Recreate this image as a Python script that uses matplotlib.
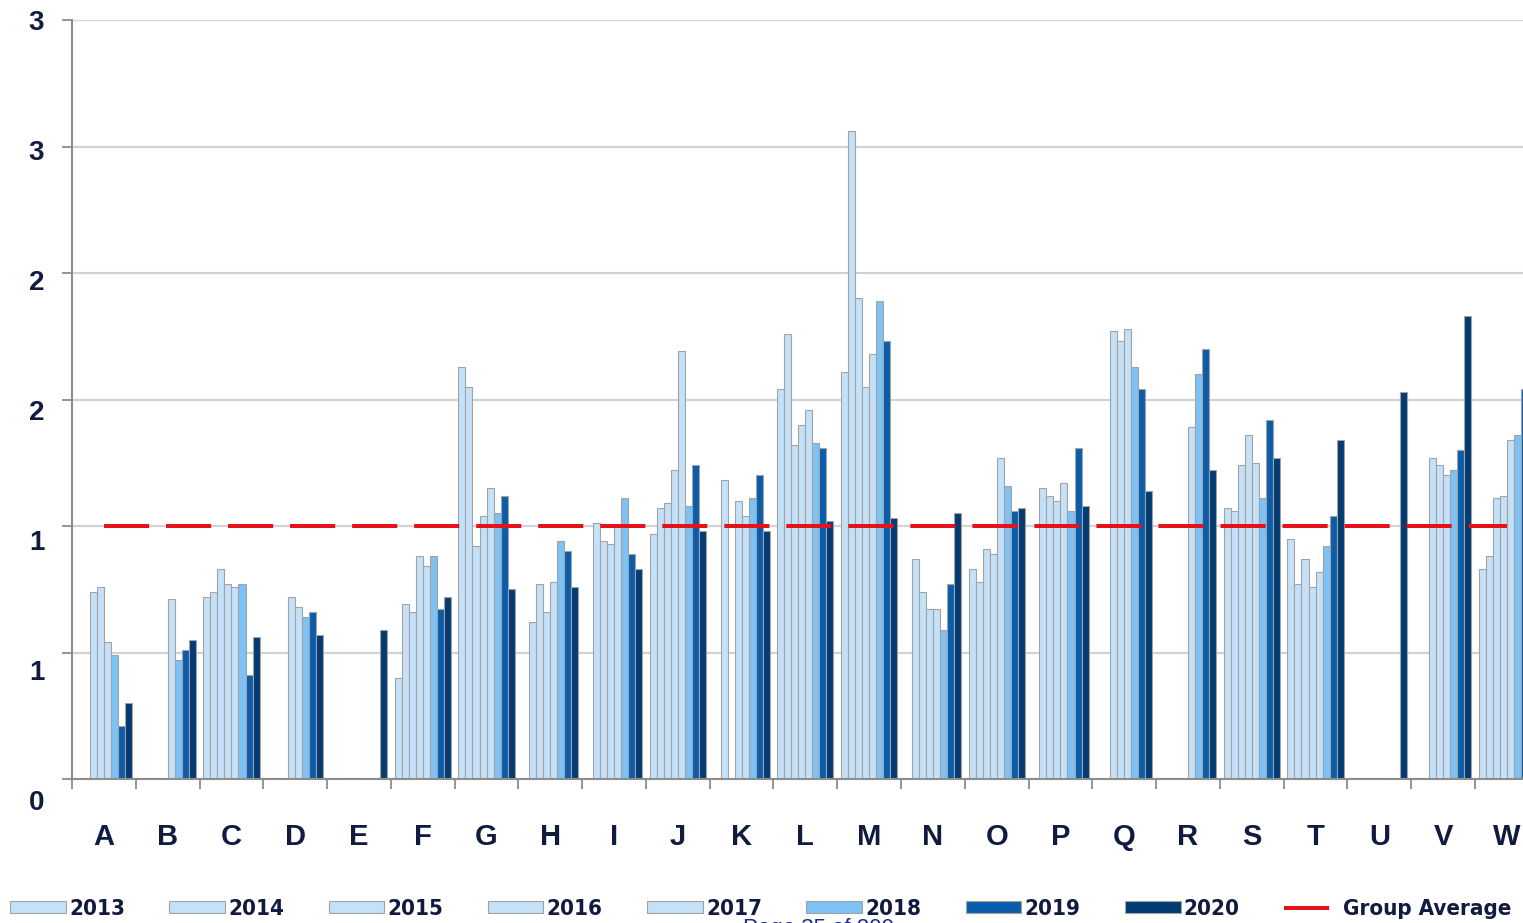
import numpy as np
import matplotlib
matplotlib.use("Agg")
import matplotlib.pyplot as plt
from matplotlib import font_manager

nan = np.nan

CATEGORIES = list("ABCDEFGHIJKLMNOPQRSTUVW")
YEARS = ["2013", "2014", "2015", "2016", "2017", "2018", "2019", "2020"]

# ratio per category and year (blank = no figure for that year)
V2013 = [nan, nan, 0.72, nan, nan, 0.40, 1.63, nan, nan, 0.97, nan, 1.54,
         1.61, nan, 0.83, nan, nan, nan, 1.07, 0.95, nan, nan, 0.83]
V2014 = [nan, nan, 0.74, nan, nan, 0.69, 1.55, 0.62, 1.01, 1.07, 1.18, 1.76,
         2.56, 0.87, 0.78, 1.15, nan, nan, 1.06, 0.77, nan, nan, 0.88]
V2015 = [0.74, nan, 0.83, nan, nan, 0.66, 0.92, 0.77, 0.94, 1.09, nan, 1.32,
         1.90, 0.74, 0.91, 1.12, 1.77, nan, 1.24, 0.87, nan, 1.27, 1.11]
V2016 = [0.76, nan, 0.77, 0.72, nan, 0.88, 1.04, 0.66, 0.93, 1.22, 1.10, 1.40,
         1.55, 0.67, 0.89, 1.10, 1.73, nan, 1.36, 0.76, nan, 1.24, 1.12]
V2017 = [0.54, 0.71, 0.76, 0.68, nan, 0.84, 1.15, 0.78, 1.00, 1.69, 1.04, 1.46,
         1.68, 0.67, 1.27, 1.17, 1.78, 1.39, 1.25, 0.82, nan, 1.20, 1.34]
V2018 = [0.49, 0.47, 0.77, 0.64, nan, 0.88, 1.05, 0.94, 1.11, 1.08, 1.11, 1.33,
         1.89, 0.59, 1.16, 1.06, 1.63, 1.60, 1.11, 0.92, nan, 1.22, 1.36]
V2019 = [0.21, 0.51, 0.41, 0.66, nan, 0.67, 1.12, 0.90, 0.89, 1.24, 1.20, 1.31,
         1.73, 0.77, 1.06, 1.31, 1.54, 1.70, 1.42, 1.04, nan, 1.30, 1.54]
V2020 = [0.30, 0.55, 0.56, 0.57, 0.59, 0.72, 0.75, 0.76, 0.83, 0.98, 0.98, 1.02,
         1.03, 1.05, 1.07, 1.08, 1.14, 1.22, 1.27, 1.34, 1.53, 1.83, nan]
GROUP_AVG = [1.0, 1.0, 1.0, 1.0, 1.0, 1.0, 1.0, 1.0, 1.0, 1.0, 1.0, 1.0,
             1.0, 1.0, 1.0, 1.0, 1.0, 1.0, 1.0, 1.0, 1.0, 1.0, 1.0]

Y_TICKS = [0, 0.5, 1, 1.5, 2, 2.5, 3]
Y_TICK_LABELS = ["0", "1", "1", "2", "2", "3", "3"]

SERIES = [V2013, V2014, V2015, V2016, V2017, V2018, V2019, V2020]
BAR_COLORS = ["#c4e1f8"] * 5 + ["#7dc1f5", "#0a5dab", "#033b72"]
TEXT_COLOR = "#111b3f"
AXIS_GREY = "#8c8c8c"

# legend uses a narrow face when one is installed
fonts = font_manager.fontManager.ttflist
names = {f.name for f in fonts}
if "Liberation Sans Narrow" in names:
    LEGEND_FONT = {"family": "Liberation Sans Narrow", "weight": "bold", "size": 17}
elif any(f.name == "DejaVu Sans" and f.stretch == "condensed" for f in fonts):
    LEGEND_FONT = {"family": "DejaVu Sans", "stretch": "condensed",
                   "weight": "bold", "size": 16}
else:
    LEGEND_FONT = {"family": "Liberation Sans", "weight": "bold", "size": 16}

W, H = 1523, 923


def px(x0, y0, x1, y1):
    return [x0 / W, 1 - y1 / H, (x1 - x0) / W, (y1 - y0) / H]


fig = plt.figure(figsize=(W / 100, H / 100), dpi=100)
# axes runs a little past the right edge of the page
ax = fig.add_axes(px(72, 20, 1538.7, 779))

x = np.arange(len(CATEGORIES))
bw = 0.1102
start = -0.5 + 0.0596
handles = []
for i, (vals, year, col) in enumerate(zip(SERIES, YEARS, BAR_COLORS)):
    b = ax.bar(x + start + bw * (i + 0.5), vals, width=bw, color=col,
               edgecolor="#a3a3a3", linewidth=0.8, label=year, zorder=2)
    handles.append(b)

avg, = ax.plot(x, GROUP_AVG, color="#e3121b", lw=2.9, dashes=(11.2, 4.2),
               dash_capstyle="butt", label="Group Average", zorder=3)
handles.append(avg)

ax.set_xlim(-0.5, len(CATEGORIES) - 0.5)
ax.set_ylim(0, 3)
ax.set_yticks(Y_TICKS)
ax.yaxis.grid(True, color="#d2d2d2", lw=1.6)
ax.set_axisbelow(True)
ax.tick_params(axis="y", labelleft=False, length=7, width=1.3, color=AXIS_GREY)

ax.set_xticks(x)
ax.set_xticklabels(CATEGORIES, fontsize=21, fontweight="bold",
                   family="Liberation Sans", color=TEXT_COLOR)
ax.set_xticks(np.arange(len(CATEGORIES) + 1) - 0.5, minor=True)
ax.tick_params(axis="x", which="major", length=0, pad=32)
ax.tick_params(axis="x", which="minor", length=7, width=1.3, color=AXIS_GREY)

for s in ("top", "right"):
    ax.spines[s].set_visible(False)
for s in ("left", "bottom"):
    ax.spines[s].set_color(AXIS_GREY)
    ax.spines[s].set_linewidth(1.5)

# value labels on the left sit on their own, slightly looser scale
lab = fig.add_axes(px(72, 20, 73, 800))
lab.set_ylim(0, 3)
lab.set_yticks(Y_TICKS)
lab.set_yticklabels(Y_TICK_LABELS, fontsize=20, fontweight="bold",
                    family="Liberation Sans", color=TEXT_COLOR)
lab.tick_params(axis="y", length=0, pad=20)
lab.set_xticks([])
lab.patch.set_visible(False)
for s in lab.spines.values():
    s.set_visible(False)

leg = fig.legend(handles, YEARS + ["Group Average"], ncol=9, loc="center left",
                 bbox_to_anchor=(10 / W, 1 - 909 / H), frameon=False,
                 prop=LEGEND_FONT, labelcolor=TEXT_COLOR, handlelength=2.5,
                 handleheight=0.45, handletextpad=0.15, columnspacing=2.0,
                 borderpad=0, borderaxespad=0)

fig.text(743 / W, 1 - 918 / H, "Page 35 of 200", color="#1f2a8a", fontsize=16,
         family="Liberation Sans", va="top", ha="left")

fig.savefig("out.png", dpi=100)
